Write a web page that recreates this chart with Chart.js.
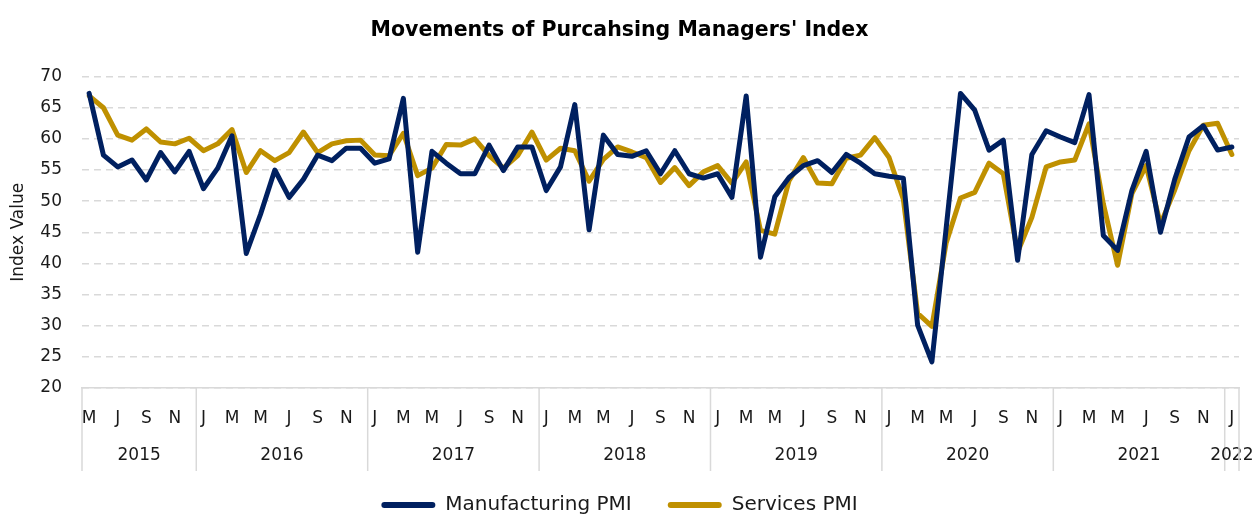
<!DOCTYPE html>
<html>
<head>
<meta charset="utf-8">
<title>Movements of Purcahsing Managers' Index</title>
<script src="https://cdn.jsdelivr.net/npm/chart.js@4.4.1/dist/chart.umd.min.js"></script>
<style>
  html, body { margin: 0; padding: 0; background: #fff; }
</style>
</head>
<body>
<canvas id="chart-pmi" width="1258" height="516"></canvas>
<script>
// ── Data ────────────────────────────────────────────────────
// monthly points, May 2015 .. Jan 2022
const years = ['2015', '2016', '2017', '2018', '2019', '2020', '2021', '2022'];
const monthsInYear = [8, 12, 12, 12, 12, 12, 12, 1];
const firstMonth = 4; // May
const monthLetters = ['J', 'F', 'M', 'A', 'M', 'J', 'J', 'A', 'S', 'O', 'N', 'D'];

const manufacturingPMI = [
  67.3, 57.4, 55.5, 56.6, 53.4, 57.8, 54.7, 58.0,
  52.0, 55.3, 60.5, 41.6, 47.9, 55.0, 50.6, 53.5, 57.4, 56.5, 58.5, 58.5,
  56.1, 56.8, 66.5, 41.8, 58.0, 56.1, 54.4, 54.4, 59.0, 54.9, 58.7, 58.7,
  51.7, 55.5, 65.5, 45.4, 60.6, 57.5, 57.2, 58.1, 54.4, 58.1, 54.4, 53.7,
  54.4, 50.6, 66.9, 41.0, 50.7, 53.8, 55.7, 56.5, 54.6, 57.5, 56.1, 54.4,
  54.0, 53.7, 30.1, 24.2, 45.7, 67.3, 64.6, 58.2, 59.8, 40.5, 57.5, 61.3,
  60.3, 59.4, 67.1, 44.5, 42.1, 51.7, 58.0, 45.0, 53.5, 60.3, 62.1, 58.2,
  58.7,
];
const servicesPMI = [
  66.9, 65.0, 60.6, 59.8, 61.6, 59.5, 59.2, 60.1,
  58.1, 59.2, 61.5, 54.6, 58.1, 56.5, 57.8, 61.1, 57.8, 59.2, 59.7, 59.8,
  57.4, 57.3, 60.9, 54.1, 55.3, 59.1, 59.0, 60.0, 57.3, 55.3, 57.3, 61.1,
  56.6, 58.5, 58.1, 53.2, 56.7, 58.7, 57.9, 57.0, 53.0, 55.4, 52.5, 54.7,
  55.7, 52.9, 56.3, 45.3, 44.7, 53.3, 57.0, 52.9, 52.8, 56.9, 57.4, 60.2,
  57.0, 50.3, 32.0, 29.9, 43.3, 50.5, 51.4, 56.1, 54.4, 41.8, 47.4, 55.5,
  56.3, 56.6, 62.4, 49.6, 39.7, 51.2, 55.7, 46.3, 51.8, 58.1, 62.2, 62.5,
  57.5,
];

// ── Categories ──────────────────────────────────────────────
const categories = [];
years.forEach((y, yi) => {
  const start = yi === 0 ? firstMonth : 0;
  for (let m = 0; m < monthsInYear[yi]; m++) {
    categories.push(monthLetters[start + m]);
  }
});

const FONT = "'DejaVu Sans', sans-serif";
const GRID = '#D9D9D9';
const TEXT = '#1a1a1a';

// ── Year groups under the month labels ─────────────────────
const yearAxisPlugin = {
  id: 'yearAxis',
  afterDraw(chart) {
    const { ctx, chartArea } = chart;
    const xs = chart.scales.x;
    const half = (xs.getPixelForValue(1) - xs.getPixelForValue(0)) / 2;
    const lineBottom = 471;
    ctx.save();
    ctx.strokeStyle = GRID;
    ctx.lineWidth = 1.5;
    ctx.fillStyle = TEXT;
    ctx.font = `17px ${FONT}`;
    ctx.textAlign = 'center';
    ctx.textBaseline = 'middle';

    let idx = 0;
    years.forEach((y, yi) => {
      const first = idx;
      const last = idx + monthsInYear[yi] - 1;
      const left = xs.getPixelForValue(first) - half;
      ctx.beginPath();
      ctx.moveTo(left, xs.top);
      ctx.lineTo(left, lineBottom);
      ctx.stroke();
      const mid = (xs.getPixelForValue(first) + xs.getPixelForValue(last)) / 2;
      ctx.fillText(y, mid, 456);
      idx = last + 1;
    });
    ctx.beginPath();
    ctx.moveTo(chartArea.right, xs.top);
    ctx.lineTo(chartArea.right, lineBottom);
    ctx.stroke();
    ctx.restore();
  }
};

// ── Chart ───────────────────────────────────────────────────
const ctx = document.getElementById('chart-pmi');
new Chart(ctx, {
  type: 'line',
  data: {
    labels: categories,
    datasets: [
      {
        label: 'Manufacturing PMI',
        data: manufacturingPMI,
        borderColor: '#002060',
        backgroundColor: '#002060',
        borderWidth: 5,
      },
      {
        label: 'Services PMI',
        data: servicesPMI,
        borderColor: '#BF9000',
        backgroundColor: '#BF9000',
        borderWidth: 5,
      },
    ]
  },
  options: {
    responsive: false,
    animation: false,
    devicePixelRatio: 1,
    layout: { padding: { top: 0, right: 19, bottom: -9, left: 0 } },
    elements: {
      point: { radius: 0, hoverRadius: 0 },
      line: { tension: 0, borderJoinStyle: 'round', borderCapStyle: 'round' },
    },
    plugins: {
      title: {
        display: true,
        text: "Movements of Purcahsing Managers' Index",
        color: '#000',
        font: { family: FONT, size: 20.5, weight: 'bold' },
        padding: { top: 18, bottom: 34 },
      },
      legend: {
        position: 'bottom',
        labels: {
          color: TEXT,
          font: { family: FONT, size: 20 },
          boxWidth: 54,
          boxHeight: 6,
          padding: 36,
          useBorderRadius: true,
          borderRadius: 3,
          generateLabels: (chart) =>
            Chart.defaults.plugins.legend.labels.generateLabels(chart)
              .map(item => ({ ...item, lineWidth: 0 })),
        }
      },
      tooltip: { enabled: false },
    },
    scales: {
      x: {
        offset: true,
        grid: { display: false, drawTicks: false },
        border: { display: true, color: GRID, width: 1.5 },
        ticks: {
          color: TEXT,
          font: { family: FONT, size: 17 },
          autoSkip: false,
          maxRotation: 0,
          padding: 20,
          callback: (v, i) => (i % 2 === 0 ? categories[i] : ''),
        },
        afterFit: (scale) => { scale.height = 71; },
      },
      y: {
        min: 20,
        max: 70,
        grid: { color: GRID, lineWidth: 1.5, drawTicks: false },
        border: { display: false, dash: [7, 5] },
        ticks: {
          stepSize: 5,
          color: TEXT,
          font: { family: FONT, size: 17 },
          padding: 20,
        },
        title: {
          display: true,
          text: 'Index Value',
          color: TEXT,
          font: { family: FONT, size: 17 },
          padding: { top: 8, bottom: 0 },
        },
        afterFit: (scale) => { scale.width = 82; },
      }
    }
  },
  plugins: [yearAxisPlugin]
});
</script>
</body>
</html>
